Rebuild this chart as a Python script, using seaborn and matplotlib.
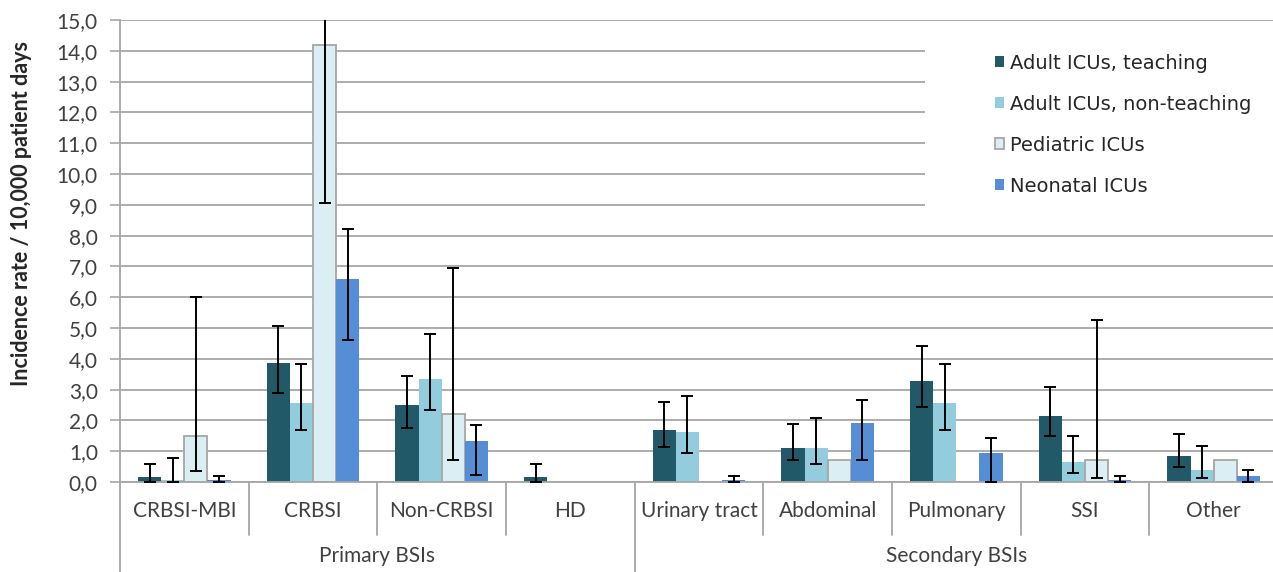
import numpy as np
import pandas as pd
import matplotlib
matplotlib.use("Agg")
import matplotlib.pyplot as plt
from matplotlib.patches import Patch, Rectangle
from matplotlib.ticker import FuncFormatter
import seaborn as sns

# ---------------- data ----------------
categories = ["CRBSI-MBI", "CRBSI", "Non-CRBSI", "HD", "Urinary tract",
              "Abdominal", "Pulmonary", "SSI", "Other"]
groups = ["Primary BSIs", "Secondary BSIs"]
group_sizes = [4, 5]
units = ["Adult ICUs, teaching", "Adult ICUs, non-teaching",
         "Pediatric ICUs", "Neonatal ICUs"]

nan = np.nan
teaching = [0.15, 3.85, 2.50, 0.15, 1.70, 1.12, 3.28, 2.15, 0.85]
teaching_lo = [0.00, 2.90, 1.75, 0.00, 1.15, 0.70, 2.45, 1.48, 0.50]
teaching_hi = [0.60, 5.07, 3.45, 0.60, 2.60, 1.88, 4.42, 3.10, 1.55]

nonteaching = [0.06, 2.55, 3.33, 0.00, 1.63, 1.11, 2.55, 0.65, 0.40]
nonteaching_lo = [0.00, 1.68, 2.33, nan, 0.95, 0.57, 1.68, 0.30, 0.12]
nonteaching_hi = [0.78, 3.83, 4.80, nan, 2.78, 2.07, 3.83, 1.48, 1.16]

pediatric = [1.48, 14.20, 2.20, 0.00, 0.00, 0.70, 0.00, 0.70, 0.70]
pediatric_lo = [0.36, 9.05, 0.70, nan, nan, nan, nan, 0.12, nan]
pediatric_hi = [6.00, 16.00, 6.95, nan, nan, nan, nan, 5.27, nan]

neonatal = [0.07, 6.60, 1.32, 0.00, 0.05, 1.90, 0.95, 0.06, 0.20]
neonatal_lo = [0.00, 4.60, 0.24, nan, 0.00, 0.70, 0.00, 0.00, 0.00]
neonatal_hi = [0.18, 8.20, 1.86, nan, 0.19, 2.65, 1.43, 0.18, 0.38]

yticks = np.arange(0, 16, 1)

# ---------------- style ----------------
colors = ["#215968", "#93CDDD", "#DAEEF3", "#558ED5"]
grid_col = "#A6A6A6"
text_col = "#404040"

sns.set_theme(style="white")
plt.rcParams["font.family"] = ["Lato", "DejaVu Sans"]

values = [teaching, nonteaching, pediatric, neonatal]
lows = [teaching_lo, nonteaching_lo, pediatric_lo, neonatal_lo]
highs = [teaching_hi, nonteaching_hi, pediatric_hi, neonatal_hi]

df = pd.DataFrame({
    "category": np.tile(categories, len(units)),
    "unit": np.repeat(units, len(categories)),
    "rate": np.concatenate(values),
})

W, H = 1273, 572
fig = plt.figure(figsize=(W / 100, H / 100), dpi=100)
ax_l, ax_r, ax_t, ax_b = 120, 1278, 20, 482
ax = fig.add_axes([ax_l / W, 1 - ax_b / H, (ax_r - ax_l) / W, (ax_b - ax_t) / H])

sns.barplot(data=df, x="category", y="rate", hue="unit", order=categories,
            hue_order=units, palette=colors, saturation=1, width=0.72,
            errorbar=None, legend=False, ax=ax, zorder=2)

bar_containers = list(ax.containers)

# bar edges: pediatric bars have grey outline
for k, cont in enumerate(bar_containers):
    for bar in cont:
        if k == 2 and bar.get_height() > 0:
            bar.set_edgecolor("#A6A6A6")
            bar.set_linewidth(1.3)
        else:
            bar.set_linewidth(0)

# error bars
for k, cont in enumerate(bar_containers):
    xs = np.array([b.get_x() + b.get_width() / 2 for b in cont])
    v = np.array(values[k], dtype=float)
    lo = np.array(lows[k], dtype=float)
    hi = np.array(highs[k], dtype=float)
    m = ~np.isnan(lo)
    ax.errorbar(xs[m], v[m], yerr=[v[m] - lo[m], hi[m] - v[m]], fmt="none",
                ecolor="black", elinewidth=1.4, capsize=4.5, capthick=1.4,
                zorder=4)

# axes
axh = ax_b - ax_t
axw = ax_r - ax_l
ax.set_ylim(0, 15)
ax.set_xlim(-0.5, len(categories) - 0.5)
ax.set_yticks(yticks)
ax.yaxis.set_major_formatter(FuncFormatter(lambda v, p: f"{v:.1f}".replace(".", ",")))
ax.tick_params(axis="y", which="major", left=True, length=7, width=1.2,
               color=grid_col, labelsize=15, labelcolor=text_col, pad=9)
ax.tick_params(axis="x", bottom=False, labelbottom=False)
ax.set_xlabel("")
ax.set_ylabel("Incidence rate / 10,000 patient days", fontsize=15.5,
              fontweight="bold", color="#262626")
ax.yaxis.set_label_coords((32 - ax_l) / axw, (ax_b - 213) / axh)
ax.yaxis.grid(True, color=grid_col, linewidth=1.3, zorder=0)
ax.set_axisbelow(True)
for s in ["top", "right"]:
    ax.spines[s].set_visible(False)
ax.spines["left"].set_color(grid_col)
ax.spines["left"].set_linewidth(1.3)
ax.spines["bottom"].set_color(grid_col)
ax.spines["bottom"].set_linewidth(1.3)

# category / group labels below axis
cat_y = -(511 - ax_b) / axh
grp_y = -(556 - ax_b) / axh
sep_cat = -(535 - ax_b) / axh
sep_grp = -(H - ax_b) / axh
trans = ax.get_xaxis_transform()
for i, c in enumerate(categories):
    ax.text(i, cat_y, c, transform=trans, ha="center", va="center",
            fontsize=15, color=text_col)
bounds = np.cumsum([0] + group_sizes) - 0.5
for i in range(len(categories) + 1):
    x = i - 0.5
    bottom = sep_grp if x in bounds else sep_cat
    ax.plot([x, x], [0, bottom], transform=trans, color=grid_col,
            linewidth=1.3, clip_on=False)
for g, a, b in zip(groups, bounds[:-1], bounds[1:]):
    ax.text((a + b) / 2, grp_y, g, transform=trans, ha="center", va="center",
            fontsize=15, color=text_col)

# legend with white background box
ax.add_patch(Rectangle(((925 - ax_l) / axw, (ax_b - 212) / axh),
                       (1273 - 925) / axw, (212 - 28) / axh,
                       transform=ax.transAxes, facecolor="white",
                       edgecolor="none", zorder=1))
handles = [Patch(facecolor=colors[i],
                 edgecolor="#A6A6A6" if i == 2 else colors[i],
                 linewidth=1.3 if i == 2 else 0) for i in range(4)]
leg = ax.legend(handles, units, loc="upper left",
                bbox_to_anchor=((985 - ax_l) / axw, (ax_b - 44) / axh),
                frameon=False, handlelength=0.47, handleheight=0.47,
                handletextpad=0.32, labelspacing=1.13, borderpad=0,
                prop={"family": ["DejaVu Sans"], "size": 14})
for t in leg.get_texts():
    t.set_color("#262626")

fig.savefig("out.png", dpi=100)
